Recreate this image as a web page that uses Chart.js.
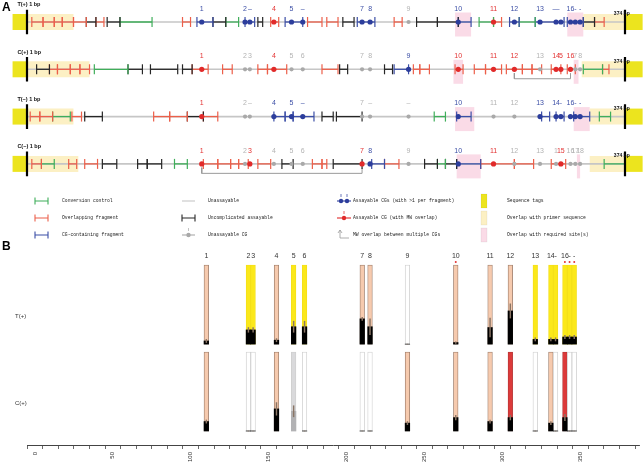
<!DOCTYPE html>
<html lang="en">
<head>
<meta charset="UTF-8">
<title>CG map and methylation bars</title>
<script src="https://cdn.jsdelivr.net/npm/chart.js"></script>
<style>
  body { margin: 0; background: #fff; }
  #wrap { position: relative; width: 643px; height: 465px; overflow: hidden; }
  #mapBox { position: absolute; left: 0; top: 0; width: 643px; height: 245px; }
  #barBox { position: absolute; left: 0; top: 240px; width: 643px; height: 225px; }
</style>
</head>
<body>
<div id="wrap">
  <div id="mapBox"><canvas id="mapChart"></canvas></div>
  <div id="barBox"><canvas id="barChart"></canvas></div>
</div>
<script>
// ---- data ----
const seqLength = 374;
const trackNames = ['T(+)', 'C(+)', 'T(\u2212)', 'C(\u2212)'];

// CG positions (bp)
const cgPos = [110, 137, 140, 155, 166, 173, 210, 215, 239, 270, 292, 305, 321, 331, 334, 340, 343, 346];

// site status per track: b = assayable, r = MW overlap, g = unassayable
const cgStatusTplus  = ['b','b','b','r','b','b','b','b','g','b','r','b','b','b','b','b','b','b'];
const cgStatusCplus  = ['r','g','g','r','g','g','g','g','b','r','r','r','g','r','r','r','g','g'];
const cgStatusTminus = ['r','g','g','b','b','b','g','g','g','b','g','g','b','b','b','b','b','b'];
const cgStatusCminus = ['r','g','r','g','g','g','r','b','g','b','r','g','g','g','r','g','g','g'];

const cgLabelsTplus  = ['1','2','\u2013','4','5','\u2013','7','8','9','10','11','12','13','\u2014','','16','-','-'];
const cgLabelsCplus  = ['1','2','3','4','5','6','7','8','9','10','11','12','13','14','5','16','7','8'];
const cgLabelsTminus = ['1','2','\u2013','4','5','\u2013','7','\u2013','\u2013','10','11','12','13','14','-','16','-','-'];
const cgLabelsCminus = ['1','2','3','4','5','6','7','8','9','10','11','12','13','1','15','16','17','18'];

// fragments [start, end, kind]  g = conversion control, r = overlapping, b = CG-containing, k = uncomplicated
const fragTplus = [[4,11,'r'],[11,18,'r'],[18,23,'r'],[23,30,'r'],[30,38,'r'],[38,44,'k'],[44,49,'r'],[51,59,'k'],[59,79,'g'],
  [98,103,'r'],[107,117,'b'],[117,125,'k'],[125,133,'g'],[137,143,'b'],[145,148,'k'],[153,158,'r'],[162,173,'b'],[176,185,'r'],
  [188,195,'r'],[198,205,'k'],[207,218,'b'],[230,235,'r'],[244,257,'k'],[257,270,'k'],[270,278,'b'],[283,292,'g'],[292,297,'r'],
  [302,308,'b'],[308,318,'g'],[318,336,'b'],[338,348,'b'],[348,355,'k'],[355,361,'r']];
const fragCplus = [[7,15,'k'],[15,20,'r'],[20,28,'r'],[28,34,'r'],[34,40,'r'],[43,64,'g'],[64,73,'k'],[78,95,'k'],[98,104,'k'],
  [104,114,'r'],[123,129,'r'],[145,151,'r'],[151,163,'r'],[185,195,'r'],[196,201,'k'],[224,229,'k'],[230,239,'b'],[242,246,'r'],
  [246,252,'r'],[268,273,'r'],[280,287,'r'],[287,297,'r'],[300,310,'r'],[310,316,'r'],[316,322,'r'],[328,334,'r'],[338,343,'r'],
  [348,360,'g'],[360,364,'r']];
const fragTminus = [[3,9,'r'],[9,17,'r'],[17,28,'g'],[29,35,'r'],[37,48,'k'],[80,90,'r'],[90,101,'r'],[101,111,'k'],[111,120,'r'],
  [155,162,'b'],[162,167,'b'],[167,180,'b'],[185,192,'k'],[194,210,'k'],[255,262,'g'],[269,278,'b'],[322,327,'b'],[331,336,'b'],
  [342,352,'b'],[358,365,'g']];
const fragCminus = [[4,10,'r'],[10,18,'g'],[27,32,'r'],[37,45,'r'],[48,57,'k'],[70,76,'k'],[76,85,'k'],[93,101,'g'],[111,120,'r'],
  [120,128,'r'],[128,133,'r'],[133,139,'r'],[145,153,'r'],[160,167,'k'],[179,185,'r'],[185,188,'r'],[192,210,'k'],[216,224,'b'],
  [224,233,'r'],[249,257,'k'],[257,262,'g'],[262,269,'k'],[269,284,'b'],[284,305,'r'],[305,317,'r'],[328,337,'r'],[361,374,'g']];

// shaded regions (bp)
const tagLeft = [-8, 1];
const tagRight = [374, 385];
const primerLeftEnd = [30, 40, 30, 33];
const primerRightStart = [348, 347, 352, 352];
const requiredTplus = [[268,278],[338,348]];
const requiredCplus = [[267,273],[342,345]];
const requiredTminus = [[268,280],[342,352]];
const requiredCminus = [[269,284],[344,346]];
// MW overlap brackets (site index pairs)
const mwBracketCplus = [11, 15];
const mwBracketCminus = [0, 6];

// panel B: p = peach, y = sequence tag, w = not measured, s = grey, r = red
const barLabels = ['1','2','3','4','5','6','7','8','9','10','11','12','13','14','-','16','-','-'];
const tPlusFill = ['p','y','y','p','y','y','p','p','w','p','p','p','y','y','y','y','y','y'];
const tPlusMeth = [0.04,0.18,0.18,0.05,0.22,0.22,0.32,0.22,0,0.02,0.21,0.42,0.06,0.06,0.06,0.09,0.09,0.09];
const tPlusErr  = [0.02,0.03,0.03,0.02,0.07,0.07,0.02,0.10,0,0.01,0.12,0.09,0.02,0.02,0.02,0.02,0.02,0.02];
const tPlusFlag = [0,0,0,0,0,0,0,0,0,1,0,0,0,0,0,1,1,1];
const cPlusFill = ['p','w','w','p','s','w','w','w','p','p','p','r','w','p','w','r','w','w'];
const cPlusMeth = [0.12,0,0,0.28,0.25,0,0,0,0.10,0.17,0.12,0.17,0,0.10,0,0.17,0,0];
const cPlusErr  = [0.02,0,0,0.08,0.07,0,0,0,0.02,0.03,0.02,0.03,0,0.02,0,0.04,0,0];

// ---- styles ----
const fragColors = { g: '#3fae5a', r: '#ec5f4a', b: '#3b4ea6', k: '#262626' };
const siteColors = { b: '#2c3d9c', r: '#e12a2a', g: '#a9a9a9' };
const labelColors = { b: '#3c4fa6', r: '#e33333', g: '#b3b3b3' };
const fillColors = { p: '#f6caae', y: '#fbe81a', w: '#ffffff', s: '#d9d9db', r: '#dc3a3a' };
const edgeColors = { p: '#9b7b69', y: '#f2de18', w: '#cdcdcd', s: '#cdcdcd', r: '#b23434' };
const methColors = { p: '#000', y: '#000', w: '#000', s: '#b2b2b4', r: '#000' };

const cgStatus = [cgStatusTplus, cgStatusCplus, cgStatusTminus, cgStatusCminus];
const cgLabels = [cgLabelsTplus, cgLabelsCplus, cgLabelsTminus, cgLabelsCminus];
const fragments = [fragTplus, fragCplus, fragTminus, fragCminus];
const required = [requiredTplus, requiredCplus, requiredTminus, requiredCminus];
const brackets = [null, mwBracketCplus, null, mwBracketCminus];

// ---- panel A ----
const mapSets = [];
function band(x0, x1, y, width, color, order) {
  mapSets.push({ data: [{ x: x0, y }, { x: x1, y }], showLine: true, borderColor: color,
    borderWidth: width, borderCapStyle: 'butt', pointRadius: 0, order });
}
trackNames.forEach((name, t) => {
  band(tagLeft[0], tagLeft[1], t, 16, '#ece41e', 9);
  band(tagRight[0], tagRight[1], t, 16, '#ece41e', 9);
  band(1, primerLeftEnd[t], t, 16, '#fcf0c4', 9);
  band(primerRightStart[t], seqLength, t, 16, '#fcf0c4', 9);
  required[t].forEach(([a, b]) => band(a, b, t + 0.053, 24, '#fadbe7', 9));
  mapSets.push({ data: [{ x: 1, y: t }, { x: seqLength, y: t }], showLine: true,
    borderColor: '#c6c6c6', borderWidth: 1.6, pointRadius: 0, order: 8 });
  [1, seqLength].forEach(p => mapSets.push({ data: [{ x: p, y: t - 0.26 }, { x: p, y: t + 0.26 }],
    showLine: true, borderColor: '#000', borderWidth: 2.2, pointRadius: 0, order: 3 }));
  fragments[t].forEach(([a, b, k]) => mapSets.push({
    data: [{ x: a, y: t }, { x: b, y: t }], showLine: true, borderColor: fragColors[k], borderWidth: 1.3,
    pointStyle: 'line', pointRotation: 90, pointRadius: 5, pointBorderColor: fragColors[k],
    pointBorderWidth: 1.2, order: 4 }));
  if (brackets[t]) {
    const a = cgPos[brackets[t][0]], b = cgPos[brackets[t][1]];
    mapSets.push({ data: [{ x: a, y: t + 0.08 }, { x: a, y: t + 0.2 }, { x: b, y: t + 0.2 }, { x: b, y: t + 0.08 }],
      showLine: true, borderColor: '#9a9a9a', borderWidth: 1, pointRadius: 0, order: 5 });
  }
  mapSets.push({ data: cgPos.map(x => ({ x, y: t })), showLine: false,
    pointRadius: cgStatus[t].map(s => s === 'g' ? 2.1 : 2.6), pointBorderWidth: 0,
    pointBackgroundColor: cgStatus[t].map(s => siteColors[s]), order: 1 });
});

const legendItems = [
  ['frag', fragColors.g, 'Conversion control'],
  ['frag', fragColors.r, 'Overlapping fragment'],
  ['frag', fragColors.b, 'CG-containing fragment'],
  ['line', '#c6c6c6', 'Unassayable'],
  ['frag', fragColors.k, 'Uncomplicated assayable'],
  ['dot', siteColors.g, 'Unassayable CG'],
  ['dots', siteColors.b, 'Assayable CGs (with >1 per fragment)'],
  ['dot', siteColors.r, 'Assayable CG (with MW overlap)'],
  ['mw', '#9a9a9a', 'MW overlap between multiple CGs'],
  ['box', '#ece41e', 'Sequence tags'],
  ['box', '#fcf0c4', 'Overlap with primer sequence'],
  ['box', '#fadbe7', 'Overlap with required site(s)']
];

const mapText = {
  id: 'mapText',
  afterDatasetsDraw(chart) {
    const { ctx, scales: { x, y } } = chart;
    ctx.save();
    ctx.textBaseline = 'middle';
    trackNames.forEach((name, t) => {
      ctx.textAlign = 'center';
      ctx.font = '7px "Liberation Sans", Arial, sans-serif';
      cgLabels[t].forEach((lab, i) => {
        ctx.fillStyle = labelColors[cgStatus[t][i]];
        ctx.fillText(lab, x.getPixelForValue(cgPos[i]), y.getPixelForValue(t - 0.28));
      });
      ctx.fillStyle = '#111';
      ctx.font = 'bold 5.5px "Liberation Sans", Arial, sans-serif';
      ctx.textAlign = 'left';
      ctx.fillText(name + ' 1 bp', x.getPixelForValue(-5), y.getPixelForValue(t - 0.36));
      ctx.textAlign = 'center';
      ctx.font = 'bold 5px "Liberation Sans", Arial, sans-serif';
      ctx.fillText(seqLength + ' bp', x.getPixelForValue(seqLength - 2), y.getPixelForValue(t - 0.17));
    });
    ctx.font = 'bold 12px "Liberation Sans", Arial, sans-serif';
    ctx.textAlign = 'left';
    ctx.fillStyle = '#000';
    ctx.fillText('A', 2, 8);

    // legend
    const colX = [[35, 48, 62], [182, 195, 208], [337, 351, 353], [481, 487, 507]];
    const rowY = [201, 218, 235];
    legendItems.forEach(([kind, color, text], i) => {
      const [x0, x1, tx] = colX[Math.floor(i / 3)];
      const yy = rowY[i % 3];
      const xm = (x0 + x1) / 2;
      ctx.strokeStyle = color; ctx.fillStyle = color; ctx.lineWidth = 1.1;
      if (kind === 'frag') {
        ctx.beginPath();
        ctx.moveTo(x0, yy); ctx.lineTo(x1, yy);
        ctx.moveTo(x0, yy - 3.5); ctx.lineTo(x0, yy + 3.5);
        ctx.moveTo(x1, yy - 3.5); ctx.lineTo(x1, yy + 3.5);
        ctx.stroke();
      } else if (kind === 'line') {
        ctx.beginPath(); ctx.moveTo(x0, yy); ctx.lineTo(x1, yy); ctx.stroke();
      } else if (kind === 'dot' || kind === 'dots') {
        ctx.beginPath(); ctx.moveTo(x0, yy); ctx.lineTo(x1, yy); ctx.stroke();
        const pts = kind === 'dots' ? [xm - 3, xm + 3] : [xm];
        pts.forEach(px => {
          ctx.beginPath(); ctx.arc(px, yy, 2.2, 0, Math.PI * 2); ctx.fill();
          ctx.beginPath(); ctx.moveTo(px, yy - 4); ctx.lineTo(px, yy - 7); ctx.lineWidth = 0.7; ctx.stroke();
        });
      } else if (kind === 'mw') {
        ctx.lineWidth = 0.8;
        ctx.beginPath(); ctx.moveTo(x0 + 3, yy - 5); ctx.lineTo(x0 + 3, yy + 3); ctx.lineTo(x1 - 2, yy + 3); ctx.stroke();
        ctx.beginPath(); ctx.moveTo(x0 + 1, yy - 2); ctx.lineTo(x0 + 3, yy - 5); ctx.lineTo(x0 + 5, yy - 2); ctx.stroke();
      } else if (kind === 'box') {
        ctx.fillRect(x0, yy - 7, x1 - x0, 14);
        ctx.strokeStyle = 'rgba(0,0,0,0.08)'; ctx.lineWidth = 0.6;
        ctx.strokeRect(x0, yy - 7, x1 - x0, 14);
      }
      ctx.fillStyle = '#222';
      ctx.font = '4.7px "Liberation Mono", "DejaVu Sans Mono", monospace';
      ctx.textAlign = 'left';
      ctx.fillText(text, tx, yy);
    });
    ctx.restore();
  }
};

new Chart(document.getElementById('mapChart'), {
  type: 'scatter',
  data: { datasets: mapSets },
  options: {
    responsive: true, maintainAspectRatio: false, animation: false, events: [],
    layout: { padding: 0, autoPadding: false },
    plugins: { legend: { display: false }, tooltip: { enabled: false } },
    scales: {
      x: { type: 'linear', display: false, min: -15.84, max: 385.23 },
      y: { type: 'linear', display: false, min: -0.465, max: 4.715, reverse: true }
    }
  },
  plugins: [mapText]
});

// ---- panel B ----
const rowBase = { T: 1.1, C: 0 };
function barSets(fill, meth, err, base) {
  return [
    { data: cgPos.map((x, i) => ({ x, y: [base, base + 1] })), backgroundColor: fill.map(k => fillColors[k]),
      borderColor: fill.map(k => edgeColors[k]), borderWidth: 0.8, borderSkipped: false,
      barThickness: 4.6, grouped: false, order: 3 },
    { data: cgPos.map((x, i) => ({ x, y: [base, base + meth[i]] })), backgroundColor: fill.map(k => methColors[k]),
      borderWidth: 0, barThickness: 4.6, grouped: false, order: 2 },
    { data: cgPos.map((x, i) => ({ x, y: [base + meth[i] - err[i], base + meth[i] + err[i]] })),
      backgroundColor: '#8a7565', borderWidth: 0, barThickness: 0.8, grouped: false, order: 1 }
  ];
}

const barText = {
  id: 'barText',
  afterDatasetsDraw(chart) {
    const { ctx, scales: { x, y } } = chart;
    ctx.save();
    ctx.textBaseline = 'middle';
    ctx.textAlign = 'center';
    ctx.fillStyle = '#333';
    ctx.font = '7px "Liberation Sans", Arial, sans-serif';
    barLabels.forEach((lab, i) => ctx.fillText(lab, x.getPixelForValue(cgPos[i]), y.getPixelForValue(2.22)));
    ctx.font = '6px "Liberation Sans", Arial, sans-serif';
    ctx.textAlign = 'left';
    ctx.fillText('T(+)', 15, y.getPixelForValue(rowBase.T + 0.35));
    ctx.fillText('C(+)', 15, y.getPixelForValue(rowBase.C + 0.35));
    ctx.font = 'bold 12px "Liberation Sans", Arial, sans-serif';
    ctx.fillStyle = '#000';
    ctx.fillText('B', 2, 7);
    ctx.restore();
  }
};

new Chart(document.getElementById('barChart'), {
  type: 'bar',
  data: {
    datasets: [
      ...barSets(tPlusFill, tPlusMeth, tPlusErr, rowBase.T),
      ...barSets(cPlusFill, cPlusMeth, cPlusErr, rowBase.C),
      { type: 'scatter', data: cgPos.map((x, i) => ({ x, y: 2.14 })).filter((p, i) => tPlusFlag[i]),
        pointRadius: 1, pointBorderWidth: 0, pointBackgroundColor: '#e23030', order: 0 }
    ]
  },
  options: {
    responsive: true, maintainAspectRatio: false, animation: false, events: [],
    layout: { padding: { left: 27, right: 4, top: 0, bottom: 0 }, autoPadding: false },
    plugins: { legend: { display: false }, tooltip: { enabled: false } },
    scales: {
      x: {
        type: 'linear', min: 0, max: 382.5,
        afterFit(s) { s.height = 20; },
        ticks: {
          stepSize: 10, autoSkip: false, includeBounds: false, minRotation: 90, maxRotation: 90,
          padding: 3, color: '#333', font: { size: 6, family: '"Liberation Sans", Arial, sans-serif' },
          callback: v => (v % 50 === 0 ? String(v) : '')
        },
        grid: { drawOnChartArea: false, tickLength: 4, color: '#444', lineWidth: 0.8 },
        border: { color: '#444', width: 1 }
      },
      y: { type: 'linear', display: false, min: -0.177, max: 2.418 }
    }
  },
  plugins: [barText]
});
</script>
</body>
</html>
